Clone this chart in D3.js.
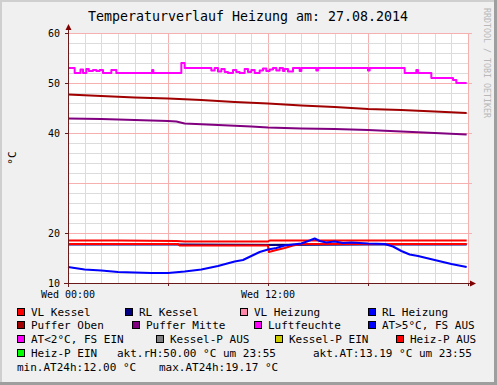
<!DOCTYPE html>
<html>
<head>
<meta charset="utf-8">
<script src="https://cdnjs.cloudflare.com/ajax/libs/d3/7.8.5/d3.min.js"></script>
<style>
  html, body { margin: 0; padding: 0; background: #f0f0f0; }
  svg { display: block; }
  text { font-family: "DejaVu Sans Mono", monospace; }
</style>
</head>
<body>
<svg id="chart" width="497" height="385"></svg>
<script>
// chart data (hours since 00:00, degrees / percent)
const title = 'Temperaturverlauf Heizung am: 27.08.2014';
const yTicks = [60, 50, 40, 20, 10];
const xTicks = [[0, 'Wed 00:00'], [12, 'Wed 12:00']];

const pufferOben = [[0, 47.7], [2, 47.4], [4, 47.1], [6, 46.9], [8, 46.6], [10, 46.2], [12, 45.9],
  [14, 45.5], [16, 45.2], [18, 44.8], [20, 44.6], [22, 44.3], [23.92, 44.0]];
const pufferMitte = [[0, 42.9], [2, 42.8], [4, 42.6], [6, 42.4], [6.5, 42.3], [7, 41.9], [9, 41.6],
  [11, 41.3], [12, 41.1], [14, 40.9], [16, 40.8], [18, 40.6], [20, 40.3], [22, 40.0], [23.92, 39.7]];
const vlKessel = [[0, 18.5], [3, 18.5], [6.5, 18.4], [7, 18.3], [12, 18.3], [12.1, 18.5], [18, 18.5], [23.92, 18.5]];
const rlKessel = [[0, 17.7], [6, 17.7], [12, 17.6], [18, 17.7], [23.92, 17.7]];
const heizPAus = [[0, 17.8], [6.6, 17.8], [6.7, 17.5], [12, 17.5], [12.05, 16.2], [12.5, 16.6],
  [13, 17.0], [13.5, 17.5], [14, 17.8], [23.92, 17.8]];
const aussen = [[0, 13.2], [1, 12.7], [2, 12.5], [3, 12.2], [4, 12.1], [5, 12.0], [6, 12.0], [7, 12.3],
  [8, 12.7], [9, 13.4], [10, 14.3], [10.5, 14.6], [11, 15.4], [11.5, 16.2], [12, 16.7], [12.5, 17.0],
  [13, 17.5], [13.5, 17.7], [14, 17.9], [14.5, 18.5], [14.8, 18.9], [15.1, 18.4], [15.5, 18.1],
  [16, 18.3], [16.5, 18.0], [17, 18.1], [18, 17.9], [19, 17.8], [19.5, 17.3], [20, 16.4],
  [20.5, 15.7], [21, 15.4], [22, 14.6], [23, 13.8], [23.92, 13.2]];
const luftfeuchte = [[0, 53], [0.4, 52], [0.75, 52.7], [0.9, 52], [1.1, 52.8], [1.25, 52.4], [1.5, 52.6],
  [1.7, 52.4], [1.9, 52.6], [2.1, 52], [2.6, 52.6], [2.9, 52], [5.05, 52.6], [5.12, 52], [6.8, 54],
  [7.0, 53], [8.6, 52.5], [8.8, 53], [9.0, 52.3], [9.2, 52.8], [9.4, 52.2], [9.6, 52], [9.9, 52.6],
  [10.1, 52.2], [10.3, 52], [10.6, 52.8], [10.8, 52.2], [11.0, 52.6], [11.2, 52], [11.5, 52.5],
  [11.7, 52.9], [11.9, 52.4], [12.1, 52.7], [12.3, 53], [12.5, 52.5], [12.7, 53], [12.9, 52.4],
  [13.0, 52.8], [13.2, 52.3], [13.5, 53], [13.9, 52.4], [14.0, 53], [14.9, 52.5], [15.0, 53],
  [18.0, 52.5], [18.1, 53], [20.2, 52], [20.9, 52.6], [21.0, 52], [21.8, 51], [23.1, 50.6], [23.3, 50], [23.92, 50]];

const legendRows = [
  [['#ff0000', 'VL Kessel', 17], ['#000080', 'RL Kessel', 125], ['#ff88aa', 'VL Heizung', 240], ['#0000ff', 'RL Heizung', 368]],
  [['#a00000', 'Puffer Oben', 17], ['#800080', 'Puffer Mitte', 132], ['#ff00ff', 'Luftfeuchte', 254], ['#0000ff', 'AT>5°C, FS AUS', 368]],
  [['#ff00ff', 'AT<2°C, FS EIN', 17], ['#808080', 'Kessel-P AUS', 156], ['#cccc00', 'Kessel-P EIN', 275], ['#ff0000', 'Heiz-P AUS', 396]],
  [['#00ff00', 'Heiz-P EIN', 17], [null, 'akt.rH:50.00 °C um 23:55', 117], [null, 'akt.AT:13.19 °C um 23:55', 313]],
  [[null, 'min.AT24h:12.00 °C', 17], [null, 'max.AT24h:19.17 °C', 159]]
];

const svg = d3.select('#chart');
const W = 497, H = 385;

// canvas and 3d border
svg.append('rect').attr('width', W).attr('height', H).attr('fill', '#f0f0f0');
svg.append('rect').attr('x', 0).attr('y', 0).attr('width', W).attr('height', 2).attr('fill', '#cfcfcf');
svg.append('rect').attr('x', 0).attr('y', 0).attr('width', 2).attr('height', H).attr('fill', '#cfcfcf');
svg.append('rect').attr('x', 0).attr('y', H - 3).attr('width', W).attr('height', 3).attr('fill', '#9e9e9e');
svg.append('rect').attr('x', W - 3).attr('y', 0).attr('width', 3).attr('height', H).attr('fill', '#9e9e9e');

const x = d3.scaleLinear().domain([0, 24]).range([68, 468]);
const y = d3.scaleLinear().domain([10, 60]).range([283, 33]);

// plot background
svg.append('rect').attr('x', x(0)).attr('y', y(60)).attr('width', x(24) - x(0)).attr('height', y(10) - y(60)).attr('fill', '#ffffff');

// grid
const grid = svg.append('g').attr('shape-rendering', 'crispEdges');
d3.range(0, 25, 1).forEach(h => {
  grid.append('line').attr('x1', x(h) + 0.5).attr('x2', x(h) + 0.5).attr('y1', y(60)).attr('y2', y(10))
    .attr('stroke', h % 6 === 0 ? '#f7b0b0' : '#dcdcdc').attr('stroke-width', 1);
});
d3.range(10, 61, 2).forEach(v => {
  grid.append('line').attr('x1', x(0)).attr('x2', x(24) + (v % 10 === 0 ? 4 : 0)).attr('y1', y(v) + 0.5).attr('y2', y(v) + 0.5)
    .attr('stroke', v % 10 === 0 ? '#f7b0b0' : '#dcdcdc').attr('stroke-width', 1);
});

// series
const line = d3.line().x(d => x(d[0])).y(d => y(d[1]));
const stepLine = d3.line().x(d => x(d[0])).y(d => y(d[1])).curve(d3.curveStepAfter);
const series = [
  [rlKessel, '#000080', line],
  [heizPAus, '#ff0000', line],
  [vlKessel, '#ff0000', line],
  [aussen, '#0000ff', line],
  [luftfeuchte, '#ff00ff', stepLine],
  [pufferOben, '#a00000', line],
  [pufferMitte, '#800080', line]
];
series.forEach(([data, color, gen]) => {
  svg.append('path').attr('d', gen(data)).attr('fill', 'none')
    .attr('stroke', color).attr('stroke-width', 2).attr('stroke-linejoin', 'round');
});

// axes with arrows
const axisColor = '#6a1a1a';
svg.append('line').attr('x1', x(0) + 0.5).attr('x2', x(0) + 0.5).attr('y1', y(10) + 4).attr('y2', y(60) - 4)
  .attr('stroke', axisColor).attr('shape-rendering', 'crispEdges');
svg.append('line').attr('x1', x(0) - 4).attr('x2', x(24) + 4).attr('y1', y(10) + 0.5).attr('y2', y(10) + 0.5)
  .attr('stroke', axisColor).attr('shape-rendering', 'crispEdges');
svg.append('path').attr('d', `M${x(0) - 2.5},${y(60) - 3} L${x(0) + 0.5},${y(60) - 9} L${x(0) + 3.5},${y(60) - 3} Z`).attr('fill', '#7f0000');
svg.append('path').attr('d', `M${x(24) + 2},${y(10) - 2.5} L${x(24) + 8},${y(10) + 0.5} L${x(24) + 2},${y(10) + 3.5} Z`).attr('fill', '#7f0000');

// tick marks
yTicks.forEach(v => {
  svg.append('line').attr('x1', x(0) - 3).attr('x2', x(0)).attr('y1', y(v) + 0.5).attr('y2', y(v) + 0.5)
    .attr('stroke', axisColor).attr('shape-rendering', 'crispEdges');
});
d3.range(0, 25, 6).forEach(h => {
  svg.append('line').attr('x1', x(h) + 0.5).attr('x2', x(h) + 0.5).attr('y1', y(10)).attr('y2', y(10) + 3)
    .attr('stroke', axisColor).attr('shape-rendering', 'crispEdges');
});

// tick labels
svg.selectAll('.ylab').data(yTicks).enter().append('text')
  .attr('x', x(0) - 8).attr('y', d => y(d) + 4).attr('text-anchor', 'end')
  .attr('font-size', 10).attr('fill', '#000').text(d => d);
svg.selectAll('.xlab').data(xTicks).enter().append('text')
  .attr('x', d => x(d[0])).attr('y', 298).attr('text-anchor', 'middle')
  .attr('font-size', 10).attr('fill', '#000').text(d => d[1]);

// title, y label, watermark
svg.append('text').attr('x', 248).attr('y', 21).attr('text-anchor', 'middle')
  .attr('font-size', 13.3).attr('fill', '#000').text(title);
svg.append('text').attr('transform', `translate(16,${(y(10) + y(60)) / 2}) rotate(-90)`)
  .attr('text-anchor', 'middle').attr('font-size', 11).attr('fill', '#000').text('°C');
svg.append('text').attr('transform', 'translate(484,8) rotate(90)')
  .attr('font-size', 8.3).attr('fill', '#b8b8b8').text('RRDTOOL / TOBI OETIKER');

// legend
const rowY = [315.5, 329, 343, 356.5, 370.5];
legendRows.forEach((row, i) => {
  row.forEach(([color, label, lx]) => {
    let tx = lx;
    if (color) {
      svg.append('rect').attr('x', lx + 0.5).attr('y', rowY[i] - 7.5).attr('width', 7).attr('height', 7)
        .attr('fill', color).attr('stroke', '#000').attr('stroke-width', 1).attr('shape-rendering', 'crispEdges');
      tx = lx + 14;
    }
    svg.append('text').attr('x', tx).attr('y', rowY[i]).attr('font-size', 11).attr('fill', '#000').text(label);
  });
});
</script>
</body>
</html>
